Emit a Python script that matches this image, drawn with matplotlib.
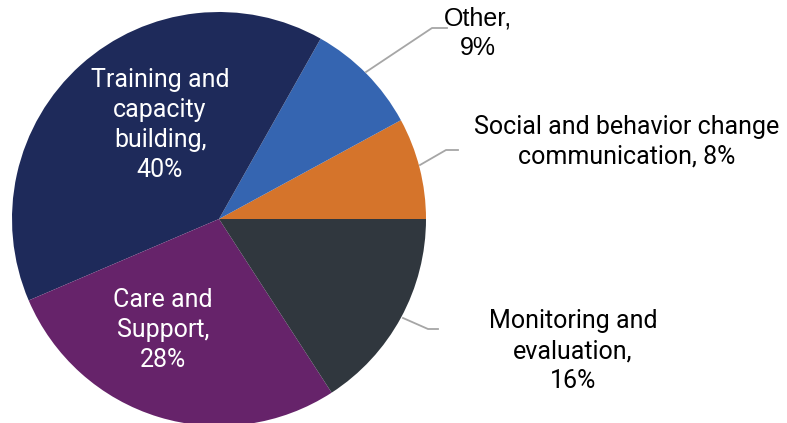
import matplotlib.pyplot as plt

# share of activities, counterclockwise from 3 o'clock
labels = ["Social and behavior change\ncommunication, 8%", "Other,\n9%",
          "Training and\ncapacity\nbuilding,\n40%", "Care and\nSupport,\n28%",
          "Monitoring and\nevaluation,\n16%"]
values = [8, 9, 40, 28, 16]
colors = ["#d5742b", "#3565b1", "#1e2a5a", "#66236a", "#30373e"]

W, H = 787, 423
fig = plt.figure(figsize=(W / 100, H / 100), dpi=100)
ax = fig.add_axes([0, 0, 1, 1])

cx, cy, r = 219, H - 219, 207
ax.pie(values, colors=colors, startangle=0, counterclock=True,
       center=(cx, cy), radius=r, frame=True,
       wedgeprops=dict(linewidth=0))
ax.set_xlim(0, W)
ax.set_ylim(0, H)
ax.axis("off")

font = "Roboto"
fs = 18
ls = 1.3
# labels inside the two big slices
ax.text(160, H - 125, labels[2], color="white", ha="center", va="center",
        fontsize=fs, family=font, linespacing=ls)
ax.text(163, H - 330, labels[3], color="white", ha="center", va="center",
        fontsize=fs, family=font, linespacing=ls)

# outside labels with leader lines
ax.text(478, H - 33, labels[1], color="black", ha="center", va="center",
        fontsize=fs, family="Liberation Sans", linespacing=ls)
ax.text(627, H - 142, labels[0], color="black", ha="center", va="center",
        fontsize=fs, family=font, linespacing=ls)
ax.text(573, H - 351, labels[4], color="black", ha="center", va="center",
        fontsize=fs, family=font, linespacing=ls)

lc = "#a6a6a6"
ax.plot([366, 432, 447], [H - 72, H - 28, H - 28], color=lc, lw=1.3)
ax.plot([420, 446, 458], [H - 165, H - 150, H - 150], color=lc, lw=1.3)
ax.plot([403, 428, 438], [H - 318, H - 329, H - 329], color=lc, lw=1.3)

fig.savefig("out.png", dpi=100)
